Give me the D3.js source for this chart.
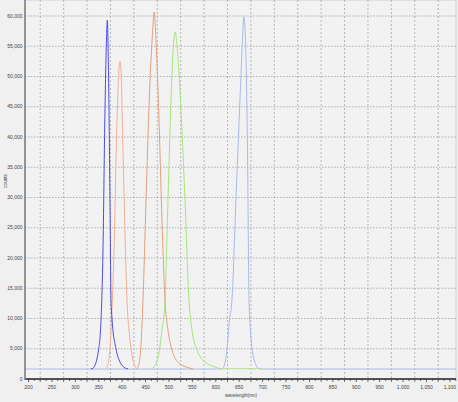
<!DOCTYPE html>
<html><head><meta charset="utf-8">
<script src="https://cdn.jsdelivr.net/npm/d3@7"></script>
<style>body{margin:0;background:#f0f0f0;}svg{display:block;}</style>
</head><body>
<svg id="c" width="458" height="402"></svg>
<script>
const xTicks = [200,250,300,350,400,450,500,550,600,650,700,750,800,850,900,950,1000,1050,1100];
const yTicks = [0,5000,10000,15000,20000,25000,30000,35000,40000,45000,50000,55000,60000];

const blue = [[333,1650],[338,1800],[350,5000],[355,10000],[359,21000],[363,43000],[366.5,56000],[368.3,59300],[370.8,51000],[374,29600],[376.2,13000],[378.3,10000],[386.8,5000],[395.4,2800],[403,2000],[412.5,1650]];
const orange1 = [[365.5,1650],[370,2600],[374,5000],[378,11000],[382.6,21300],[389,42800],[393,51000],[395.4,52560],[397.5,51000],[401.8,37800],[407,21300],[410.3,13000],[414.6,8100],[421,4000],[426,2400],[431.7,1650]];
const orange2 = [[431.7,1650],[438,3470],[444.5,13000],[451,29600],[457.8,46100],[464,56000],[468.6,60660],[472.3,56000],[478.7,42800],[485,26300],[491.5,13000],[497.9,8100],[506.4,4800],[519.2,2800],[536.3,2000],[551.3,1650]];
const green = [[461.5,1650],[470,2200],[476.5,3470],[485,8100],[491.5,13000],[497.9,29600],[504.3,46100],[509.6,55200],[513.5,57360],[517,55200],[525.6,44500],[534.2,29600],[542.7,13000],[549.1,8100],[559.8,4800],[576.9,2800],[598.2,2000],[613.2,1700],[650,1700],[700,1700]];
const lightBlue = [[192,1650],[613,1650],[620,2800],[624,5000],[629.2,9750],[634.5,13000],[643,29600],[651.6,46100],[657,56000],[660,59840],[663.4,56000],[667.7,37800],[671,13000],[674,8100],[677.3,5000],[683.6,2800],[690,1800],[698.6,1650],[1113,1650]];

const svg = d3.select("#c");
const x = d3.scaleLinear().domain([192.5,1113]).range([25,456]);
const y = d3.scaleLinear().domain([0,62645]).range([379,0]);

// plot background
svg.append("rect").attr("x",25).attr("y",0).attr("width",431).attr("height",379).attr("fill","#f2f2f2").attr("stroke","#d0d0d0");

// gridlines
const gx = d3.range(225,1100,50);
svg.append("g").selectAll("line").data(gx).join("line")
  .attr("x1",d=>x(d)).attr("x2",d=>x(d)).attr("y1",0).attr("y2",379)
  .attr("stroke","#a8a8a8").attr("stroke-width",0.8).attr("stroke-dasharray","2,2");
svg.append("g").selectAll("line").data(yTicks.slice(1)).join("line")
  .attr("x1",25).attr("x2",456).attr("y1",d=>y(d)).attr("y2",d=>y(d))
  .attr("stroke","#a0a0a0").attr("stroke-width",0.8).attr("stroke-dasharray","1.5,1.5");

// curves
const line = d3.line().x(d=>x(d[0])).y(d=>y(d[1])).curve(d3.curveMonotoneX);
const series = [
  {d:lightBlue,c:"#a9b9ee"},
  {d:green,c:"#a6e67a"},
  {d:orange2,c:"#e2a07c"},
  {d:orange1,c:"#f2b094"},
  {d:blue,c:"#4b4be0"}
];
svg.append("g").selectAll("path").data(series).join("path")
  .attr("d",s=>line(s.d)).attr("fill","none").attr("stroke",s=>s.c).attr("stroke-width",1);

// axes
const xAxis = svg.append("g").attr("transform","translate(0,379)");
xAxis.append("line").attr("x1",25).attr("x2",456).attr("stroke","#222").attr("stroke-width",1.5);
xAxis.selectAll("line.t").data(d3.range(200,1113,12.5)).join("line").attr("class","t")
  .attr("x1",d=>x(d)).attr("x2",d=>x(d)).attr("y1",0).attr("y2",d=>(d%50===0||d%50===25)?3:2).attr("stroke","#333").attr("stroke-width",0.7);
xAxis.selectAll("text").data(xTicks).join("text")
  .attr("x",d=>x(d)).attr("y",9.5).attr("text-anchor","middle")
  .attr("font-family","Liberation Sans Narrow, Liberation Sans, sans-serif").attr("font-size",5).attr("fill","#444")
  .text(d=>d3.format(",")(d));

svg.append("line").attr("x1",25).attr("x2",25).attr("y1",0).attr("y2",380).attr("stroke","#808080").attr("stroke-width",1.6);
svg.append("g").selectAll("text").data(yTicks).join("text")
  .attr("x",22.5).attr("y",d=>y(d)+1.7).attr("text-anchor","end")
  .attr("font-family","Liberation Sans Narrow, Liberation Sans, sans-serif").attr("font-size",5).attr("fill","#444")
  .text(d=>d3.format(",")(d));

svg.append("text").attr("transform","translate(6.5,181) rotate(-90)").attr("text-anchor","middle")
  .attr("font-family","Liberation Sans Narrow, Liberation Sans, sans-serif").attr("font-size",4.5).attr("fill","#444").text("counts");
svg.append("text").attr("x",241).attr("y",397).attr("text-anchor","middle")
  .attr("font-family","Liberation Sans Narrow, Liberation Sans, sans-serif").attr("font-size",4.5).attr("fill","#444").text("wavelength(nm)");
</script>
</body></html>
